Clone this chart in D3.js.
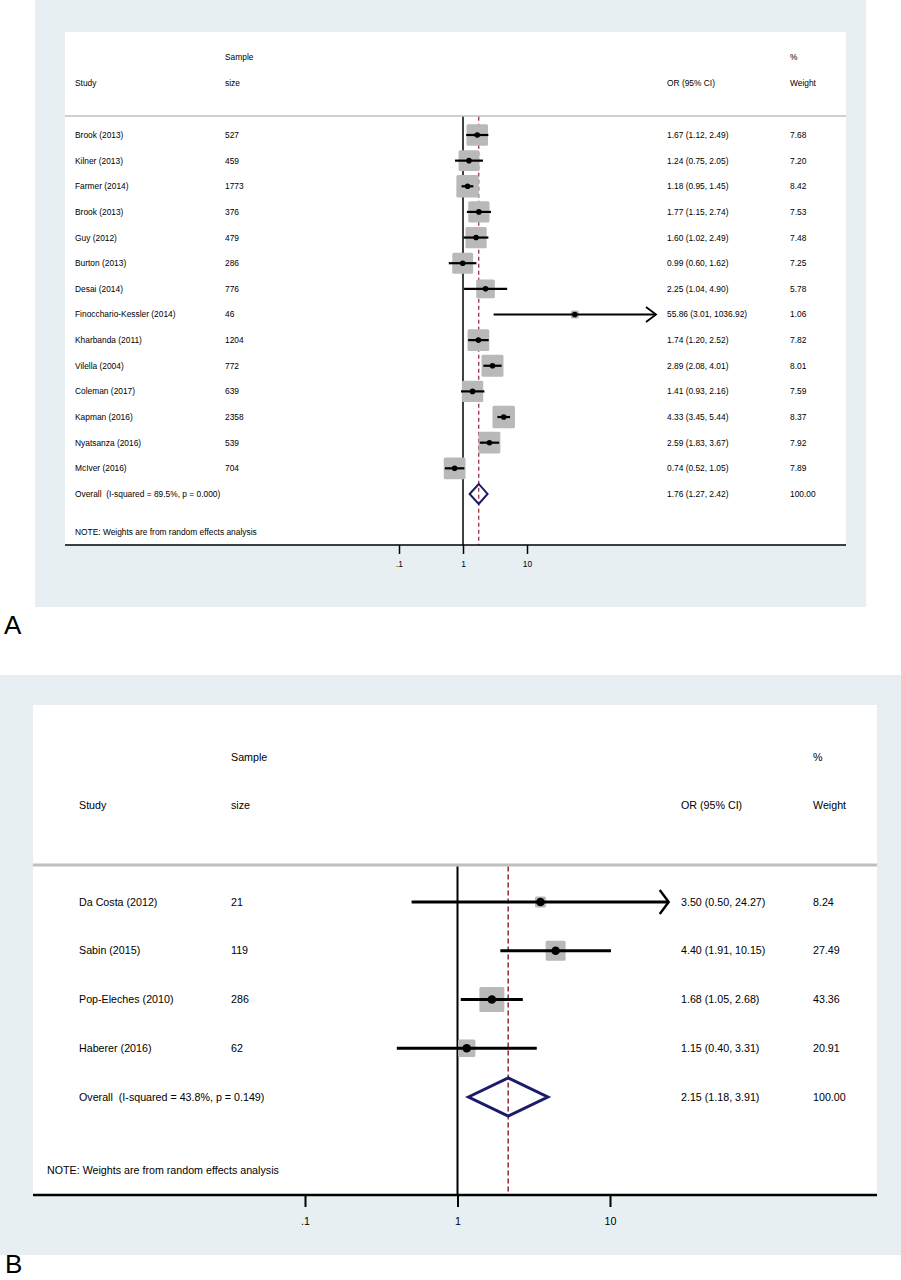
<!DOCTYPE html>
<html><head><meta charset="utf-8">
<script src="https://cdn.jsdelivr.net/npm/d3@7"></script>
<style>
body{margin:0;background:#fff}
svg{display:block}
text{font-family:Arial,"Liberation Sans",sans-serif;fill:#000;white-space:pre}
</style>
</head><body>
<svg id="c" width="901" height="1280"></svg>
<script>
// ---------- Panel A data ----------
const studiesA = ["Brook (2013)","Kilner (2013)","Farmer (2014)","Brook (2013)","Guy (2012)","Burton (2013)","Desai (2014)","Finocchario-Kessler (2014)","Kharbanda (2011)","Vilella (2004)","Coleman (2017)","Kapman (2016)","Nyatsanza (2016)","McIver (2016)"];
const sizeA   = [527,459,1773,376,479,286,776,46,1204,772,639,2358,539,704];
const orA     = [1.67,1.24,1.18,1.77,1.60,0.99,2.25,55.86,1.74,2.89,1.41,4.33,2.59,0.74];
const loA     = [1.12,0.75,0.95,1.15,1.02,0.60,1.04,3.01,1.20,2.08,0.93,3.45,1.83,0.52];
const hiA     = [2.49,2.05,1.45,2.74,2.49,1.62,4.90,1036.92,2.52,4.01,2.16,5.44,3.67,1.05];
const weightA = [7.68,7.20,8.42,7.53,7.48,7.25,5.78,1.06,7.82,8.01,7.59,8.37,7.92,7.89];
const overallA = [1.76,1.27,2.42];
const overallLabelA = "Overall  (I-squared = 89.5%, p = 0.000)";

// ---------- Panel B data ----------
const studiesB = ["Da Costa (2012)","Sabin (2015)","Pop-Eleches (2010)","Haberer (2016)"];
const sizeB   = [21,119,286,62];
const orB     = [3.50,4.40,1.68,1.15];
const loB     = [0.50,1.91,1.05,0.40];
const hiB     = [24.27,10.15,2.68,3.31];
const weightB = [8.24,27.49,43.36,20.91];
const overallB = [2.15,1.18,3.91];
const overallLabelB = "Overall  (I-squared = 43.8%, p = 0.149)";

// ---------- shared text ----------
const tickValues = [0.1,1,10];
const tickLabels = [".1","1","10"];
const headers = {study:"Study", sample:"Sample", size:"size", or:"OR (95% CI)", pct:"%", weight:"Weight"};
const noteText = "NOTE: Weights are from random effects analysis";

const svg = d3.select("#c");
const BG = "#e8eff2";

function panel(cfg, d){
  const g = svg.append("g");
  g.append("rect").attr("x",cfg.bg[0]).attr("y",cfg.bg[1]).attr("width",cfg.bg[2]).attr("height",cfg.bg[3]).attr("fill",BG);
  g.append("rect").attr("x",cfg.white[0]).attr("y",cfg.white[1]).attr("width",cfg.white[2]).attr("height",cfg.axisY-cfg.white[1]).attr("fill","#fff");

  const x = d3.scaleLog().domain([0.1,10]).range(cfg.xRange);
  const n = d.studies.length;
  const y = d3.scaleLinear().domain([0,n]).range([cfg.row0, cfg.row0 + n*cfg.step]);
  const box = d3.scaleSqrt().domain([0, d3.max(d.weight)]).range([0, cfg.boxMax]);
  const fs = cfg.fs;
  const txt = (s, xx, yy) => g.append("text").attr("x",xx).attr("y",yy).attr("dy","0.35em").attr("font-size",fs).text(s);

  // headers
  txt(headers.sample, cfg.cols.size, cfg.headY1);
  txt(headers.pct, cfg.cols.w, cfg.headY1);
  txt(headers.study, cfg.cols.study, cfg.headY2);
  txt(headers.size, cfg.cols.size, cfg.headY2);
  txt(headers.or, cfg.cols.or, cfg.headY2);
  txt(headers.weight, cfg.cols.w, cfg.headY2);

  // header separator
  g.append("line").attr("x1",cfg.white[0]).attr("x2",cfg.white[0]+cfg.white[2])
    .attr("y1",cfg.sepY).attr("y2",cfg.sepY).attr("stroke","#bfbfbf").attr("stroke-width",cfg.sepW);

  // null line
  g.append("line").attr("x1",x(1)).attr("x2",x(1)).attr("y1",cfg.sepY+cfg.sepW/2).attr("y2",cfg.axisY)
    .attr("stroke","#000").attr("stroke-width",cfg.nullW);
  // overall dashed line
  g.append("line").attr("x1",x(d.overall[0])).attr("x2",x(d.overall[0])).attr("y1",cfg.sepY+cfg.sepW/2).attr("y2",cfg.axisY)
    .attr("stroke","#9c3446").attr("stroke-width",cfg.dashW).attr("stroke-dasharray",cfg.dash);

  // study rows
  d.studies.forEach((s,i)=>{
    const yy = y(i);
    txt(s, cfg.cols.study, yy);
    txt(String(d.size[i]), cfg.cols.size, yy);
    txt(`${d.or[i].toFixed(2)} (${d.lo[i].toFixed(2)}, ${d.hi[i].toFixed(2)})`, cfg.cols.or, yy);
    txt(d.weight[i].toFixed(2), cfg.cols.w, yy);
    const side = box(d.weight[i]);
    g.append("rect").attr("x",x(d.or[i])-side/2).attr("y",yy-side/2).attr("width",side).attr("height",side)
      .attr("rx",1.5).attr("fill","#b9b9b9");
    g.append("line").attr("x1",x(d.lo[i])).attr("x2",x(d.hi[i])).attr("y1",yy).attr("y2",yy)
      .attr("stroke","#000").attr("stroke-width",cfg.ciW);
    if (d.hi[i] > 20){
      const xe = x(d.hi[i]);
      g.append("path").attr("d",`M${xe-cfg.arrW},${yy-cfg.arrH}L${xe},${yy}L${xe-cfg.arrW},${yy+cfg.arrH}`)
        .attr("fill","none").attr("stroke","#000").attr("stroke-width",cfg.ciW*0.8);
    }
    g.append("circle").attr("cx",x(d.or[i])).attr("cy",yy).attr("r",cfg.pt).attr("fill","#000");
  });

  // overall row
  const yo = y(n);
  txt(d.overallLabel, cfg.cols.study, yo);
  txt(`${d.overall[0].toFixed(2)} (${d.overall[1].toFixed(2)}, ${d.overall[2].toFixed(2)})`, cfg.cols.or, yo);
  txt((100).toFixed(2), cfg.cols.w, yo);
  const [o,ol,oh] = d.overall;
  g.append("path").attr("d",`M${x(ol)},${yo}L${x(o)},${yo-cfg.diaH}L${x(oh)},${yo}L${x(o)},${yo+cfg.diaH}Z`)
    .attr("fill","none").attr("stroke","#1b1b6b").attr("stroke-width",cfg.diaW).attr("stroke-linejoin","miter");

  // note
  txt(noteText, cfg.noteX, cfg.noteY);

  // axis
  const axis = d3.axisBottom(x).tickValues(tickValues).tickFormat((v,i)=>tickLabels[i]).tickSize(cfg.tickLen).tickPadding(cfg.tickPad);
  const ax = g.append("g").attr("transform",`translate(0,${cfg.axisY})`).call(axis);
  ax.select(".domain").remove();
  ax.selectAll(".tick line").attr("stroke","#000").attr("stroke-width",cfg.nullW);
  ax.selectAll(".tick text").attr("font-size",fs).attr("font-family","Arial, 'Liberation Sans', sans-serif").attr("fill","#000");
  g.append("line").attr("x1",cfg.white[0]).attr("x2",cfg.white[0]+cfg.white[2]).attr("y1",cfg.axisY).attr("y2",cfg.axisY)
    .attr("stroke","#000").attr("stroke-width",cfg.axisW);

  // panel letter
  g.append("text").attr("x",cfg.letterX).attr("y",cfg.letterY).attr("font-size",26).text(cfg.letter);
}

panel({
  bg:[35,0,831,607], white:[65,32,781], axisY:545,
  xRange:[399,527], row0:135, step:25.64, boxMax:22.5, fs:8.4,
  cols:{study:75,size:225,or:667,w:790}, headY1:57, headY2:83,
  sepY:116, sepW:1.5, nullW:1.5, dashW:1.3, dash:"4,3", ciW:2.2, pt:2.8,
  arrW:10, arrH:7.5, diaH:10, diaW:2, noteX:75, noteY:532, tickLen:9, tickPad:7, axisW:1.5,
  letter:"A", letterX:4, letterY:634
},{studies:studiesA,size:sizeA,or:orA,lo:loA,hi:hiA,weight:weightA,overall:overallA,overallLabel:overallLabelA});

panel({
  bg:[0,675,901,580], white:[33,705,844], axisY:1195,
  xRange:[305,610], row0:902, step:48.75, boxMax:25, fs:10.7,
  cols:{study:79,size:231,or:681,w:813}, headY1:757, headY2:805,
  sepY:865, sepW:3, nullW:2, dashW:1.6, dash:"5,3", ciW:3, pt:4.3,
  arrW:9, arrH:12, diaH:19, diaW:3, noteX:47, noteY:1170, tickLen:12, tickPad:10, axisW:2.5,
  letter:"B", letterX:5, letterY:1273
},{studies:studiesB,size:sizeB,or:orB,lo:loB,hi:hiB,weight:weightB,overall:overallB,overallLabel:overallLabelB});
</script>
</body></html>
